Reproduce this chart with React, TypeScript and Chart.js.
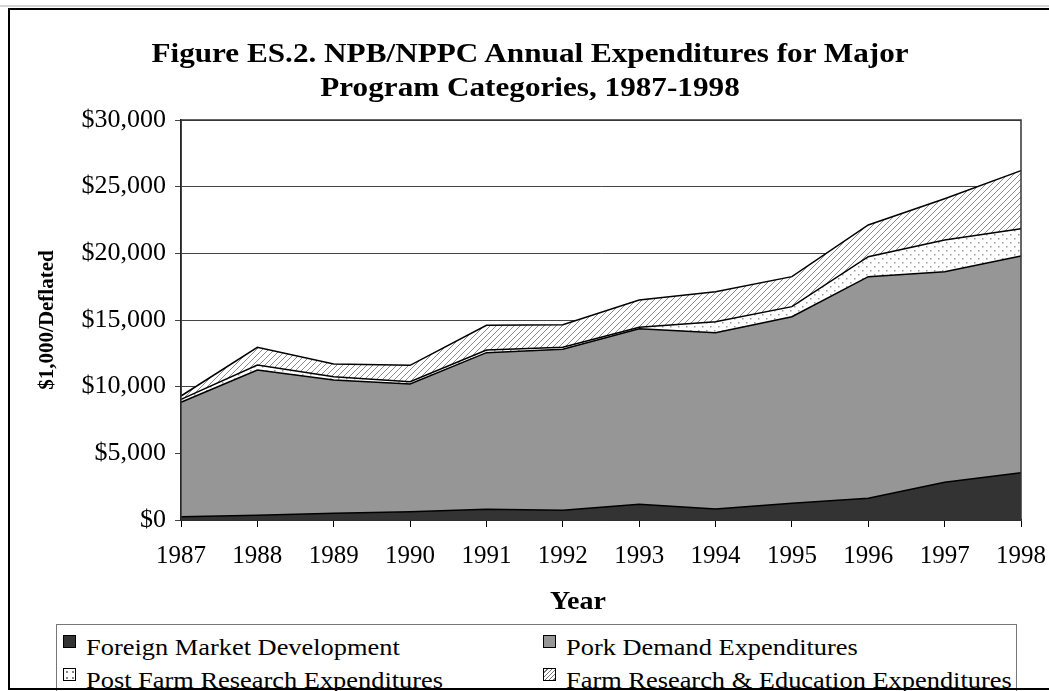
import React, { useEffect, useRef } from 'react';
import { Chart, registerables } from 'chart.js';
Chart.register(...registerables);

const years = ['1987', '1988', '1989', '1990', '1991', '1992', '1993', '1994', '1995', '1996', '1997', '1998'];
const foreignMarket = [250, 350, 500, 625, 800, 725, 1175, 825, 1250, 1625, 2825, 3550];
const porkDemand = [8580, 10900, 10000, 9575, 11750, 12075, 13175, 13225, 14000, 16625, 15800, 16250];
const postFarmResearch = [220, 375, 250, 175, 200, 150, 100, 825, 750, 1500, 2375, 2050];
const farmResearchEducation = [250, 1325, 950, 1225, 1850, 1700, 2050, 2250, 2250, 2375, 3100, 4350];
const seriesNames = [
  'Foreign Market Development',
  'Pork Demand Expenditures',
  'Post Farm Research Expenditures',
  'Farm Research & Education Expenditures',
];
const yMin = 0;
const yMax = 30000;
const yStep = 5000;
const titleLines = ['Figure ES.2. NPB/NPPC Annual Expenditures for Major', 'Program Categories, 1987-1998'];
const xTitle = 'Year';
const yTitle = '$1,000/Deflated';

const SERIF = '"Times New Roman", "Liberation Serif", serif';

function makeHatch(): CanvasPattern | string {
  const c = document.createElement('canvas');
  c.width = 6;
  c.height = 6;
  const g = c.getContext('2d');
  if (!g) return '#fff';
  g.fillStyle = '#fff';
  g.fillRect(0, 0, 6, 6);
  g.strokeStyle = '#8c8c8c';
  g.lineWidth = 1;
  g.beginPath();
  g.moveTo(0, 6);
  g.lineTo(6, 0);
  g.moveTo(-1, 1);
  g.lineTo(1, -1);
  g.moveTo(5, 7);
  g.lineTo(7, 5);
  g.stroke();
  return g.createPattern(c, 'repeat') || '#fff';
}

function makeDots(): CanvasPattern | string {
  const c = document.createElement('canvas');
  c.width = 8;
  c.height = 8;
  const g = c.getContext('2d');
  if (!g) return '#fff';
  g.fillStyle = '#fff';
  g.fillRect(0, 0, 8, 8);
  g.fillStyle = '#9a9a9a';
  g.fillRect(2, 2, 1.5, 1.5);
  g.fillRect(6, 6, 1.5, 1.5);
  return g.createPattern(c, 'repeat') || '#fff';
}

const boxPlugin = {
  id: 'plotBox',
  afterDatasetsDraw(chart: any) {
    const { ctx, chartArea } = chart;
    ctx.save();
    ctx.strokeStyle = '#333';
    ctx.lineWidth = 1.5;
    ctx.strokeRect(chartArea.left, chartArea.top, chartArea.right - chartArea.left, chartArea.bottom - chartArea.top);
    ctx.restore();
  },
};

export default function App() {
  const ref = useRef<HTMLCanvasElement | null>(null);

  useEffect(() => {
    if (!ref.current) return;
    const hatch = makeHatch();
    const dots = makeDots();
    const common = {
      borderColor: '#000',
      borderWidth: 1.5,
      pointRadius: 0,
      tension: 0,
    };
    const chart = new Chart(ref.current, {
      type: 'line',
      data: {
        labels: years,
        datasets: [
          { ...common, label: seriesNames[0], data: foreignMarket, backgroundColor: '#333333', fill: 'origin' },
          { ...common, label: seriesNames[1], data: porkDemand, backgroundColor: '#969696', fill: '-1' },
          { ...common, label: seriesNames[2], data: postFarmResearch, backgroundColor: dots as any, fill: '-1' },
          { ...common, label: seriesNames[3], data: farmResearchEducation, backgroundColor: hatch as any, fill: '-1' },
        ],
      },
      options: {
        responsive: false,
        animation: false,
        devicePixelRatio: 1,
        layout: { padding: { top: 120, left: 0, right: 28, bottom: 71 } },
        plugins: {
          legend: { display: false },
          title: { display: false },
          tooltip: { enabled: false },
        },
        scales: {
          x: {
            type: 'category',
            offset: false,
            grid: { drawOnChartArea: false, drawTicks: true, tickLength: 7, color: '#000' },
            border: { display: true, color: '#000', width: 1.5 },
            ticks: { color: '#000', padding: 14, maxRotation: 0, autoSkip: false, font: { family: SERIF, size: 25 } },
            title: { display: false, text: xTitle },
            afterFit(scale: any) {
              scale.height = 100;
              scale.paddingLeft = 0;
              scale.paddingRight = 0;
            },
          },
          y: {
            stacked: true,
            min: yMin,
            max: yMax,
            grid: { color: '#444', lineWidth: 1, tickLength: 6, drawTicks: true },
            border: { display: true, color: '#000', width: 1.5 },
            ticks: {
              stepSize: yStep,
              color: '#000',
              padding: 9,
              font: { family: SERIF, size: 26 },
              callback: (v: any) => '$' + Number(v).toLocaleString('en-US'),
            },
            title: {
              display: true,
              text: yTitle,
              color: '#000',
              font: { family: SERIF, size: 21, weight: 'bold' },
              padding: { top: 35, bottom: 0 },
            },
            afterFit(scale: any) {
              scale.width = 181;
            },
          },
        },
      },
      plugins: [boxPlugin],
    } as any);
    return () => chart.destroy();
  }, []);

  const swatch = (bg: string, extra: React.CSSProperties = {}): React.CSSProperties => ({
    position: 'absolute',
    width: 11,
    height: 11,
    border: '1.5px solid #000',
    background: bg,
    ...extra,
  });
  const legendText: React.CSSProperties = {
    position: 'absolute',
    fontFamily: SERIF,
    fontSize: 24,
    lineHeight: '28px',
    color: '#000',
    whiteSpace: 'nowrap',
    transform: 'scaleX(1.1)',
    transformOrigin: 'left center',
  };

  return (
    <div style={{ position: 'fixed', left: 0, top: 0, width: 1049, height: 691, overflow: 'hidden', background: '#fff' }}>
      <canvas ref={ref} width={1049} height={691} style={{ position: 'absolute', left: 0, top: 0, width: 1049, height: 691 }} />
      <div
        style={{
          position: 'absolute',
          left: 30,
          top: 36,
          width: 1000,
          textAlign: 'center',
          fontFamily: SERIF,
          fontWeight: 'bold',
          fontSize: 27,
          lineHeight: '34px',
          color: '#000',
          transform: 'scaleX(1.155)',
          transformOrigin: '500px center',
        }}
      >
        <div>{titleLines[0]}</div>
        <div>{titleLines[1]}</div>
      </div>
      <div
        style={{
          position: 'absolute',
          left: 478,
          top: 586,
          width: 200,
          textAlign: 'center',
          fontFamily: SERIF,
          fontWeight: 'bold',
          fontSize: 25,
          lineHeight: '30px',
          color: '#000',
          transform: 'scaleX(1.12)',
          transformOrigin: '100px center',
        }}
      >
        {xTitle}
      </div>
      <div
        style={{
          position: 'absolute',
          left: 56,
          top: 624,
          width: 959,
          height: 90,
          border: '1px solid #777',
          background: '#fff',
        }}
      >
        <div style={swatch('#333', { left: 6, top: 10 })} />
        <div style={{ ...legendText, left: 29, top: 8 }}>{seriesNames[0]}</div>
        <div style={swatch('#969696', { left: 486, top: 10 })} />
        <div style={{ ...legendText, left: 509, top: 8 }}>{seriesNames[1]}</div>
        <div style={swatch('#fff', { left: 6, top: 43, backgroundImage: 'radial-gradient(circle, #888 0.8px, transparent 1.2px)', backgroundSize: '6px 6px' })} />
        <div style={{ ...legendText, left: 29, top: 41 }}>{seriesNames[2]}</div>
        <div
          style={swatch('#fff', {
            left: 486,
            top: 43,
            backgroundImage: 'repeating-linear-gradient(135deg, #fff 0px, #fff 2px, #777 2px, #777 3px)',
          })}
        />
        <div style={{ ...legendText, left: 509, top: 41 }}>{seriesNames[3]}</div>
      </div>
      <div style={{ position: 'absolute', left: 0, top: 5, width: 1049, height: 2, background: '#d4d4d4' }} />
      <div
        style={{
          position: 'absolute',
          left: 8,
          top: 8,
          width: 1100,
          height: 678,
          border: '2px solid #000',
          pointerEvents: 'none',
        }}
      />
    </div>
  );
}
